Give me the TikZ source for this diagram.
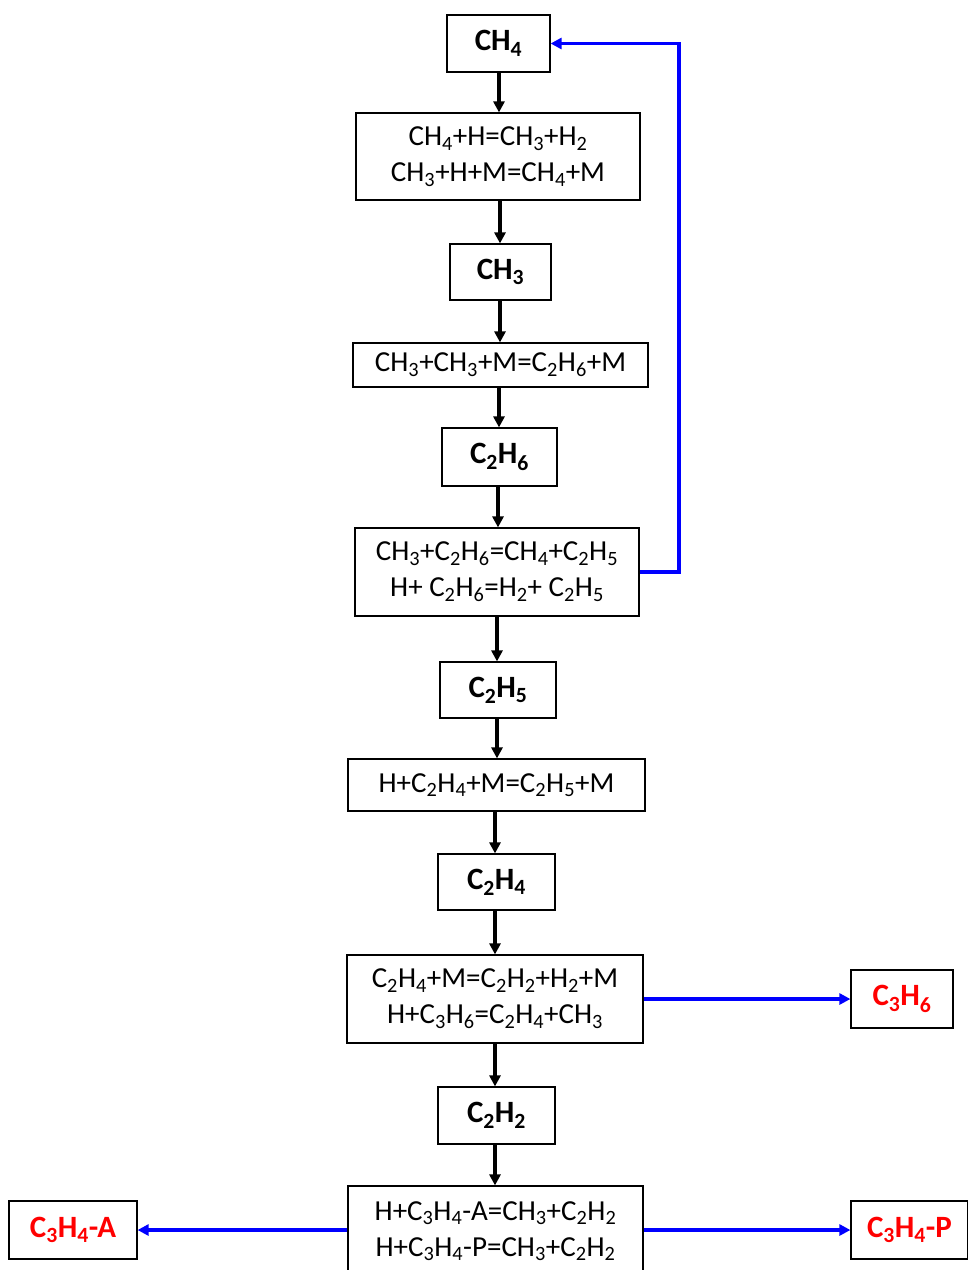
\documentclass[tikz,border=0pt]{standalone}
\usepackage{fontspec}
\setmainfont{Carlito}
\usetikzlibrary{arrows.meta}
\newcommand{\sbx}[1]{\textsubscript{#1}}
\tikzset{
  box/.style={draw=black, line width=1.2pt, fill=white, inner sep=0pt, align=center, font=\fontsize{29}{36}\selectfont},
  spec/.style={box, font=\fontsize{31}{34}\selectfont\bfseries},
  red spec/.style={spec, text=red},
  flow/.style={-{Triangle[length=11pt,width=11pt]}, line width=3.6pt, black},
  side/.style={-{Triangle[length=11pt,width=11pt]}, line width=3.6pt, blue},
}
\begin{document}
\begin{tikzpicture}[x=1pt,y=-1pt]
\useasboundingbox (0,0) rectangle (968,1270);
\node[spec, minimum width=103pt, minimum height=57pt] (ch4) at (498.5,43.5) {CH\sbx{4}};
\node[box, minimum width=284pt, minimum height=87pt] (r1) at (498,156.5) {CH\sbx{4}+H=CH\sbx{3}+H\sbx{2}\\CH\sbx{3}+H+M=CH\sbx{4}+M};
\node[spec, minimum width=101pt, minimum height=56pt] (ch3) at (500.5,272) {CH\sbx{3}};
\node[box, minimum width=295pt, minimum height=44pt] (r2) at (500.5,365) {CH\sbx{3}+CH\sbx{3}+M=C\sbx{2}H\sbx{6}+M};
\node[spec, minimum width=115pt, minimum height=58pt] (c2h6) at (499.5,457) {C\sbx{2}H\sbx{6}};
\node[box, minimum width=284pt, minimum height=88pt] (r3) at (497,572) {CH\sbx{3}+C\sbx{2}H\sbx{6}=CH\sbx{4}+C\sbx{2}H\sbx{5}\\H+ C\sbx{2}H\sbx{6}=H\sbx{2}+ C\sbx{2}H\sbx{5}};
\node[spec, minimum width=116pt, minimum height=56pt] (c2h5) at (498,690) {C\sbx{2}H\sbx{5}};
\node[box, minimum width=297pt, minimum height=52pt] (r4) at (496.5,785) {H+C\sbx{2}H\sbx{4}+M=C\sbx{2}H\sbx{5}+M};
\node[spec, minimum width=117pt, minimum height=56pt] (c2h4) at (496.5,882) {C\sbx{2}H\sbx{4}};
\node[box, minimum width=296pt, minimum height=88pt] (r5) at (495,999) {C\sbx{2}H\sbx{4}+M=C\sbx{2}H\sbx{2}+H\sbx{2}+M\\H+C\sbx{3}H\sbx{6}=C\sbx{2}H\sbx{4}+CH\sbx{3}};
\node[spec, minimum width=117pt, minimum height=57pt] (c2h2) at (496.5,1115.5) {C\sbx{2}H\sbx{2}};
\node[box, minimum width=295pt, minimum height=90pt] (r6) at (495.5,1231) {H+C\sbx{3}H\sbx{4}-A=CH\sbx{3}+C\sbx{2}H\sbx{2}\\H+C\sbx{3}H\sbx{4}-P=CH\sbx{3}+C\sbx{2}H\sbx{2}};
\node[red spec, minimum width=102pt, minimum height=58pt] (c3h6) at (902,999) {C\sbx{3}H\sbx{6}};
\node[red spec, minimum width=128pt, minimum height=58pt] (c3h4a) at (73,1230) {C\sbx{3}H\sbx{4}-A};
\node[red spec, minimum width=117pt, minimum height=58pt] (c3h4p) at (909.5,1230) {C\sbx{3}H\sbx{4}-P};
\draw[flow] (ch4.south -| 499,0) -- (r1.north -| 499,0);
\draw[flow] (r1.south -| 500,0) -- (ch3.north -| 500,0);
\draw[flow] (ch3.south -| 500,0) -- (r2.north -| 500,0);
\draw[flow] (r2.south -| 499,0) -- (c2h6.north -| 499,0);
\draw[flow] (c2h6.south -| 498,0) -- (r3.north -| 498,0);
\draw[flow] (r3.south -| 497,0) -- (c2h5.north -| 497,0);
\draw[flow] (c2h5.south -| 497,0) -- (r4.north -| 497,0);
\draw[flow] (r4.south -| 495,0) -- (c2h4.north -| 495,0);
\draw[flow] (c2h4.south -| 495,0) -- (r5.north -| 495,0);
\draw[flow] (r5.south -| 495,0) -- (c2h2.north -| 495,0);
\draw[flow] (c2h2.south -| 495,0) -- (r6.north -| 495,0);
\coordinate (fb1) at (679,572);
\coordinate (fb2) at (679,43.5);
\draw[side] (r3.east) -- (fb1) -- (fb2) -- (ch4.east);
\draw[side] (r5.east) -- (c3h6.west);
\draw[side] (r6.west |- c3h4a) -- (c3h4a.east);
\draw[side] (r6.east |- c3h4p) -- (c3h4p.west);
\end{tikzpicture}
\end{document}
